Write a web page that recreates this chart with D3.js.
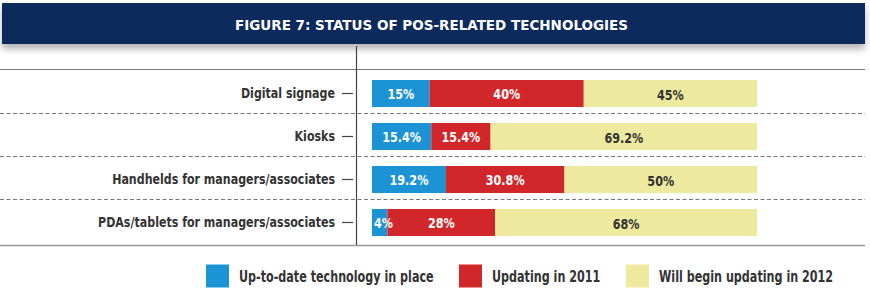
<!DOCTYPE html>
<html>
<head>
<meta charset="utf-8">
<script src="https://cdn.jsdelivr.net/npm/d3@7"></script>
<style>
  body { margin: 0; background: #fff; }
  svg { display: block; font-family: "DejaVu Sans", sans-serif; }
</style>
</head>
<body>
<svg id="chart" width="870" height="297"></svg>
<script>
// chart data
const categories = ["Digital signage", "Kiosks", "Handhelds for managers/associates", "PDAs/tablets for managers/associates"];
const upToDate = [15, 15.4, 19.2, 4];
const updating2011 = [40, 15.4, 30.8, 28];
const updating2012 = [45, 69.2, 50, 68];
const seriesNames = ["Up-to-date technology in place", "Updating in 2011", "Will begin updating in 2012"];
const colors = ["#1b93d5", "#d2272a", "#ede99f"];
const labelColors = ["#fff", "#fff", "#333"];

const svg = d3.select("#chart");

// squeeze text horizontally to mimic the condensed face of the original
function squeeze(sel, k) {
  sel.each(function() {
    const t = d3.select(this);
    const x0 = +t.attr("x") || 0;
    t.attr("x", x0 / k).attr("transform", `scale(${k},1)`);
  });
}

// header bar with shadow
const defs = svg.append("defs");
const f = defs.append("filter").attr("id", "shadow").attr("x", "-5%").attr("y", "-20%").attr("width", "110%").attr("height", "170%");
f.append("feDropShadow").attr("dx", 0).attr("dy", 5).attr("stdDeviation", 3.5).attr("flood-color", "#000").attr("flood-opacity", 0.3);

svg.append("rect")
  .attr("x", 2).attr("y", 3).attr("width", 863).attr("height", 41)
  .attr("fill", "#0b2b5d")
  .attr("filter", "url(#shadow)");

svg.append("text")
  .attr("x", 431.5).attr("y", 29.5)
  .attr("text-anchor", "middle")
  .attr("fill", "#fff")
  .attr("font-weight", "bold")
  .attr("font-size", 13.5)
  .text("FIGURE 7: STATUS OF POS-RELATED TECHNOLOGIES");

// scales
const x = d3.scaleLinear().domain([0, 100]).range([372, 757]);
const y = d3.scaleBand().domain(categories).range([72, 244]);
const barH = 27;

// frame lines
svg.append("line").attr("x1", 0).attr("x2", 865).attr("y1", 69.5).attr("y2", 69.5)
  .attr("stroke", "#777").attr("stroke-width", 1.2);
svg.append("line").attr("x1", 0).attr("x2", 865).attr("y1", 245.5).attr("y2", 245.5)
  .attr("stroke", "#999").attr("stroke-width", 1.5);
svg.append("line").attr("x1", 356.5).attr("x2", 356.5).attr("y1", 46).attr("y2", 245)
  .attr("stroke", "#444").attr("stroke-width", 1.2);

// dashed separators between rows
svg.selectAll(".sep")
  .data(categories.slice(1))
  .join("line")
    .attr("class", "sep")
    .attr("x1", 0).attr("x2", 865)
    .attr("y1", d => y(d) - 1.5).attr("y2", d => y(d) - 1.5)
    .attr("stroke", "#777")
    .attr("stroke-dasharray", "4,2.5");

// y axis labels with tick marks
const axis = svg.append("g")
  .attr("transform", "translate(356,0)")
  .call(d3.axisLeft(y).tickSize(14).tickPadding(7));
axis.select(".domain").remove();
axis.selectAll(".tick line").attr("stroke", "#444").attr("stroke-width", 1.2).attr("x1", -3).attr("x2", -14);
axis.selectAll(".tick text")
  .attr("x", -21)
  .attr("font-family", "\"DejaVu Sans\", sans-serif")
  .attr("font-size", 14)
  .attr("font-weight", "bold")
  .attr("fill", "#333")
  .call(squeeze, 0.79);

// stacked bars
const rows = categories.map((c, i) => ({ cat: c, vals: [upToDate[i], updating2011[i], updating2012[i]] }));
const segs = [];
rows.forEach(r => {
  let acc = 0;
  r.vals.forEach((v, k) => {
    segs.push({ cat: r.cat, k: k, x0: acc, x1: acc + v, v: v });
    acc += v;
  });
});

svg.selectAll(".bar")
  .data(segs)
  .join("rect")
    .attr("class", "bar")
    .attr("x", d => x(d.x0))
    .attr("width", d => x(d.x1) - x(d.x0))
    .attr("y", d => y(d.cat) + y.bandwidth() / 2 - barH / 2)
    .attr("height", barH)
    .attr("fill", d => colors[d.k]);

// narrow segments get their label started at the segment's left edge
const narrow = d => x(d.x1) - x(d.x0) < 24;

svg.selectAll(".val")
  .data(segs)
  .join("text")
    .attr("class", "val")
    .attr("x", d => narrow(d) ? x(d.x0) + 2 : (x(d.x0) + x(d.x1)) / 2)
    .attr("y", d => y(d.cat) + y.bandwidth() / 2 + (d.k === 2 ? 1.5 : 0.5))
    .attr("dy", "0.36em")
    .attr("text-anchor", d => narrow(d) ? "start" : "middle")
    .attr("font-size", 14)
    .attr("font-weight", "bold")
    .attr("fill", d => labelColors[d.k])
    .text(d => d.v + "%")
    .call(squeeze, 0.8);

// legend
const legendX = [206, 459, 626];
const legend = svg.append("g")
  .selectAll("g")
  .data(seriesNames)
  .join("g")
    .attr("transform", (d, i) => `translate(${legendX[i]},264.5)`);

legend.append("rect")
  .attr("width", 23).attr("height", 23)
  .attr("fill", (d, i) => colors[i]);

legend.append("text")
  .attr("x", 33).attr("y", 12)
  .attr("dy", "0.36em")
  .attr("font-size", 15)
  .attr("font-weight", "bold")
  .attr("fill", "#333")
  .text(d => d)
  .call(squeeze, 0.745);
</script>
</body>
</html>
